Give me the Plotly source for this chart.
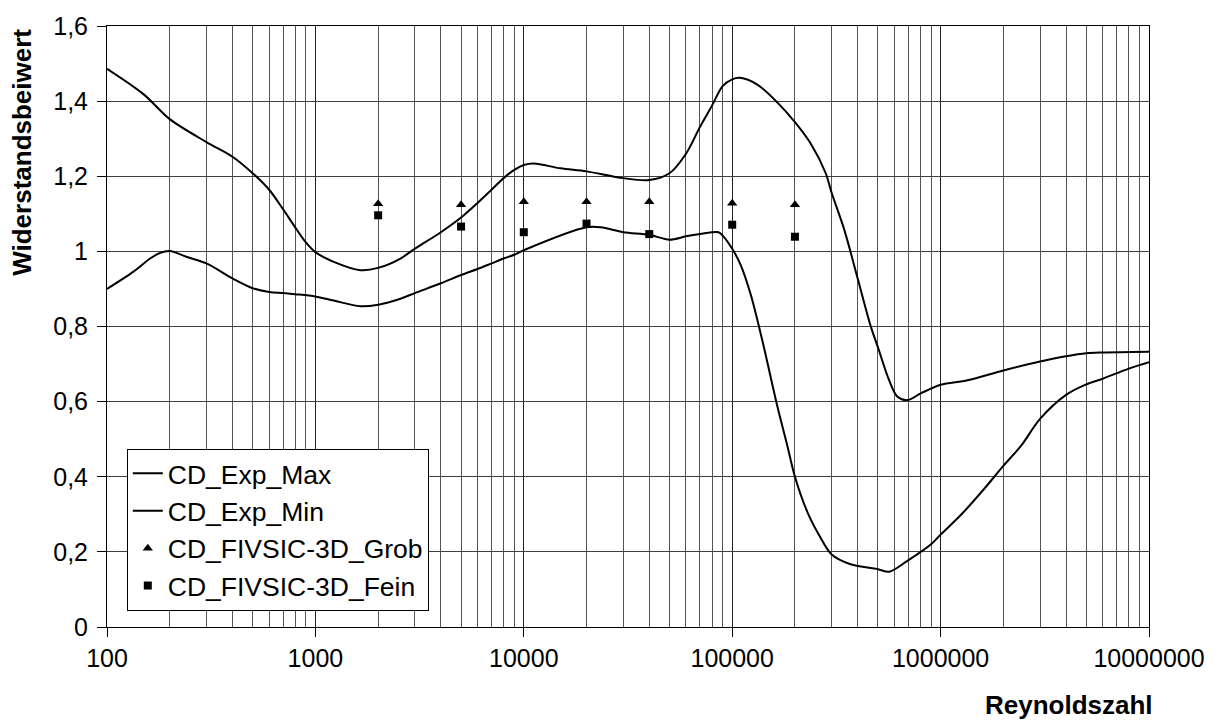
import plotly.graph_objects as go

# --- data ---
re_max = [100, 150, 200, 300, 400, 500, 600, 700, 800, 900, 1000, 1225, 1644, 2000, 2560,
          3000, 4000, 5000, 6000, 7000, 8000, 9000, 10000, 11180, 15000, 20000, 30000,
          40000, 50000, 60000, 70000, 80000, 90000, 100000, 109000, 132000, 165000,
          200000, 238000, 281000, 300000, 344000, 400000, 462000, 500000, 566000,
          621000, 693000, 804000, 1000000, 1346000, 2000000, 3000000, 4000000,
          5000000, 6000000, 10000000]
cd_max = [1.486, 1.418, 1.352, 1.291, 1.252, 1.208, 1.164, 1.112, 1.064, 1.024, 0.998,
          0.972, 0.950, 0.956, 0.981, 1.007, 1.051, 1.090, 1.129, 1.164, 1.195, 1.217,
          1.230, 1.234, 1.221, 1.213, 1.195, 1.190, 1.208, 1.260, 1.331, 1.388, 1.440,
          1.458, 1.462, 1.444, 1.396, 1.344, 1.287, 1.208, 1.156, 1.060, 0.928, 0.801,
          0.745, 0.657, 0.613, 0.604, 0.622, 0.645, 0.657, 0.683, 0.707, 0.721, 0.729,
          0.731, 0.733]

re_min = [100, 134, 161, 180, 200, 242, 300, 400, 500, 600, 700, 800, 1000, 1225, 1644,
          2000, 2560, 3000, 4000, 5000, 6000, 7000, 8000, 9000, 10000, 20000, 23400,
          30000, 40000, 50000, 60000, 70000, 86000, 90000, 100000, 110000, 122700,
          139600, 164800, 184000, 200000, 229500, 261000, 300000, 370000, 500000,
          566000, 693000, 900000, 1000000, 1250000, 1620000, 2000000, 2430000,
          3000000, 4000000, 5000000, 6000000, 8000000, 10000000]
cd_min = [0.900, 0.946, 0.981, 0.996, 1.001, 0.985, 0.968, 0.928, 0.902, 0.892, 0.889,
          0.886, 0.880, 0.869, 0.854, 0.858, 0.874, 0.889, 0.915, 0.937, 0.953, 0.968,
          0.981, 0.991, 1.003, 1.064, 1.064, 1.051, 1.044, 1.031, 1.040, 1.046, 1.051,
          1.042, 1.007, 0.963, 0.885, 0.762, 0.587, 0.482, 0.400, 0.306, 0.245, 0.193,
          0.167, 0.154, 0.147, 0.176, 0.220, 0.246, 0.298, 0.368, 0.429, 0.482, 0.554,
          0.618, 0.646, 0.661, 0.688, 0.705]

re_sim = [2000, 5000, 10000, 20000, 40000, 100000, 200000]
cd_grob = [1.127, 1.124, 1.132, 1.132, 1.132, 1.128, 1.124]
cd_fein = [1.096, 1.066, 1.051, 1.074, 1.046, 1.071, 1.039]

x_tick_vals = [100, 1000, 10000, 100000, 1000000, 10000000]
x_tick_text = ["100", "1000", "10000", "100000", "1000000", "10000000"]
y_tick_vals = [0, 0.2, 0.4, 0.6, 0.8, 1.0, 1.2, 1.4, 1.6]
y_tick_text = ["0", "0,2", "0,4", "0,6", "0,8", "1", "1,2", "1,4", "1,6"]

x_minor_vals = [m * d for d in x_tick_vals[:-1] for m in range(2, 10)]

FONT = "Arial, Liberation Sans, sans-serif"

fig = go.Figure()
fig.add_trace(go.Scatter(x=re_max, y=cd_max, mode="lines", name="CD_Exp_Max",
                         line=dict(color="black", width=2, shape="spline", smoothing=0.9)))
fig.add_trace(go.Scatter(x=re_min, y=cd_min, mode="lines", name="CD_Exp_Min",
                         line=dict(color="black", width=2, shape="spline", smoothing=0.9)))
fig.add_trace(go.Scatter(x=re_sim, y=cd_grob, mode="markers", name="CD_FIVSIC-3D_Grob",
                         marker=dict(symbol="triangle-up", size=9, color="black")))
fig.add_trace(go.Scatter(x=re_sim, y=cd_fein, mode="markers", name="CD_FIVSIC-3D_Fein",
                         marker=dict(symbol="square", size=8, color="black")))

fig.update_layout(
    width=1218, height=722,
    margin=dict(l=107, r=69, t=17, b=95),
    paper_bgcolor="white", plot_bgcolor="white",
    font=dict(family=FONT, size=25, color="black"),
    showlegend=True,
    legend=dict(x=0.019, y=0.297, xanchor="left", yanchor="top",
                bgcolor="white", bordercolor="black", borderwidth=1,
                font=dict(family=FONT, size=26.5, color="black"),
                tracegroupgap=0),
    xaxis=dict(type="log", range=[2, 7],
               tickmode="array", tickvals=x_tick_vals, ticktext=x_tick_text,
               ticks="outside", ticklen=9, tickcolor="black", tickwidth=1,
               showgrid=True, gridcolor="#202020", gridwidth=1,
               minor=dict(tickmode="array", tickvals=x_minor_vals, showgrid=True,
                          gridcolor="#555555", gridwidth=1, ticks=""),
               showline=True, linecolor="black", linewidth=1, mirror=True,
               zeroline=False, tickfont=dict(size=25)),
    yaxis=dict(range=[0, 1.6],
               tickmode="array", tickvals=y_tick_vals, ticktext=y_tick_text,
               ticks="outside", ticklen=9, tickcolor="black", tickwidth=1,
               ticklabelstandoff=4,
               showgrid=True, gridcolor="#404040", gridwidth=1,
               showline=True, linecolor="black", linewidth=1, mirror=True,
               zeroline=False, tickfont=dict(size=25)),
    annotations=[
        dict(text="<b>Reynoldszahl</b>", xref="paper", yref="paper",
             x=0.923, y=-0.129, xanchor="center", yanchor="middle",
             showarrow=False, font=dict(family=FONT, size=26, color="black")),
        dict(text="<b>Widerstandsbeiwert</b>", xref="paper", yref="paper",
             x=-0.081, y=0.79, xanchor="center", yanchor="middle", textangle=-90,
             showarrow=False, font=dict(family=FONT, size=26, color="black")),
    ],
)

fig.write_html("out.html")
